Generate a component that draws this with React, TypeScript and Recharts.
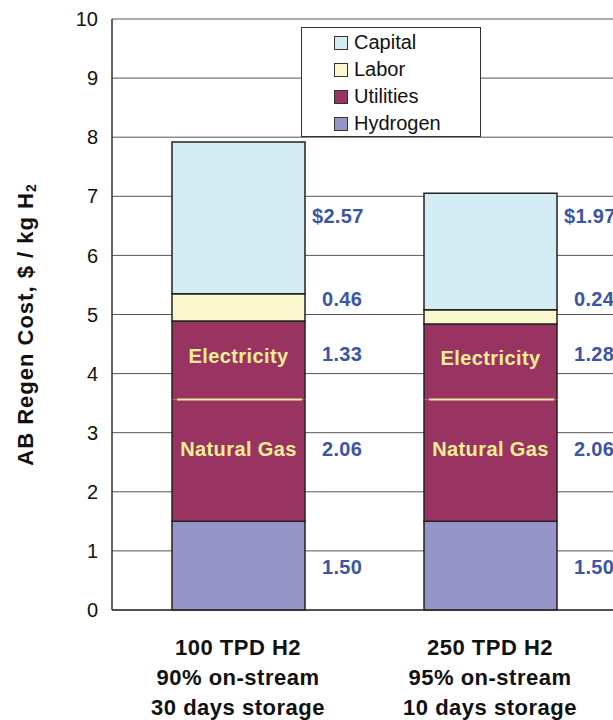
import React from "react";
import { BarChart, Bar, XAxis, YAxis, CartesianGrid, Legend } from "recharts";

// categories, one entry per line of the tick label
const categoryLines = [
  ["100 TPD H2", "90% on-stream", "30 days storage"],
  ["250 TPD H2", "95% on-stream", "10 days storage"],
];

// stacked cost parts, $ / kg H2 (bottom to top)
const hydrogen = [1.5, 1.5];
const naturalGas = [2.06, 2.06];
const electricity = [1.33, 1.28];
const labor = [0.46, 0.24];
const capital = [2.57, 1.97];

const yTicks = [0, 1, 2, 3, 4, 5, 6, 7, 8, 9, 10];

const legendItems = [
  { name: "Capital", color: "#d4ecf3" },
  { name: "Labor", color: "#fbf8cf" },
  { name: "Utilities", color: "#993462" },
  { name: "Hydrogen", color: "#9595c7" },
];

const data = categoryLines.map((lines, i) => ({
  name: lines[0],
  hydrogen: hydrogen[i],
  naturalGas: naturalGas[i],
  electricity: electricity[i],
  labor: labor[i],
  capital: capital[i],
}));

const order = ["hydrogen", "naturalGas", "electricity", "labor", "capital"];

const FONT = "'Liberation Sans', Arial, sans-serif";
const EDGE = "#222";
const VALUE_BLUE = "#3b55a6";
const INNER_YELLOW = "#f6ef94";

// where each value label sits (in axis units), a style choice of the original
const segStyle: Record<string, any> = {
  hydrogen: { fill: "#9595c7", labelRow: 0.72 },
  naturalGas: { fill: "#993462", labelRow: 2.72, open: "top", inner: "Natural Gas", innerDy: -11 },
  electricity: { fill: "#993462", labelRow: 4.33, open: "bottom", inner: "Electricity", innerDy: -4, divider: true },
  labor: { fill: "#fbf8cf", labelRow: 5.26 },
  capital: { fill: "#d4ecf3", labelRow: 6.67, prefix: "$" },
};

function Segment(props: any) {
  const { x, y, width, height, payload, segKey } = props;
  const st = segStyle[segKey];
  const val = payload[segKey];
  let lower = 0;
  for (const k of order) {
    if (k === segKey) break;
    lower += payload[k];
  }
  const ppu = height / val;
  const bottom = y + height;
  const labelY = bottom - (st.labelRow - lower) * ppu;
  const right = x + width;

  let edges = "";
  if (st.open === "top") {
    edges = `M${x},${y} L${x},${bottom} L${right},${bottom} L${right},${y}`;
  } else if (st.open === "bottom") {
    edges = `M${x},${bottom} L${x},${y} L${right},${y} L${right},${bottom}`;
  } else {
    edges = `M${x},${y} L${right},${y} L${right},${bottom} L${x},${bottom} Z`;
  }

  return (
    <g>
      <rect x={x} y={y} width={width} height={height} fill={st.fill} />
      <path d={edges} fill="none" stroke={EDGE} strokeWidth={1.5} />
      {st.divider && (
        <line x1={x + 5} x2={right - 3} y1={bottom} y2={bottom} stroke={INNER_YELLOW} strokeWidth={2} />
      )}
      {st.inner && (
        <text
          x={x + width / 2}
          y={y + height / 2 + st.innerDy}
          textAnchor="middle"
          dominantBaseline="central"
          fill={INNER_YELLOW}
          fontFamily={FONT}
          fontWeight="bold"
          fontSize={20}
          letterSpacing={0.4}
        >
          {st.inner}
        </text>
      )}
      <text
        x={right + (st.prefix ? 7 : 17)}
        y={labelY}
        dominantBaseline="central"
        fill={VALUE_BLUE}
        fontFamily={FONT}
        fontWeight="bold"
        fontSize={20}
        letterSpacing={0.3}
      >
        {(st.prefix || "") + val.toFixed(2)}
      </text>
    </g>
  );
}

function CategoryTick(props: any) {
  const { x, y, payload } = props;
  const lines = categoryLines[payload.index] || [payload.value];
  return (
    <text x={x} y={y} textAnchor="middle" fill="#111" fontFamily={FONT} fontWeight="bold" fontSize={22} letterSpacing={0.5}>
      {lines.map((l, i) => (
        <tspan key={i} x={x} dy={i === 0 ? 45 : 30}>
          {l}
        </tspan>
      ))}
    </text>
  );
}

function YTitle(props: any) {
  const vb = props.viewBox || { x: 0, y: 19, height: 591 };
  const cx = vb.x + 25;
  const cy = vb.y + vb.height / 2 + 10;
  return (
    <text
      x={cx}
      y={cy}
      transform={`rotate(-90, ${cx}, ${cy})`}
      textAnchor="middle"
      dominantBaseline="central"
      fill="#111"
      fontFamily={FONT}
      fontWeight="bold"
      fontSize={22}
      letterSpacing={1}
    >
      AB Regen Cost, $ / kg H
      <tspan fontSize={14} dy={6}>2</tspan>
    </text>
  );
}

function LegendBox() {
  return (
    <div
      style={{
        width: 180,
        height: 110,
        boxSizing: "border-box",
        border: "1.5px solid #333",
        background: "#fff",
        paddingTop: 1,
        fontFamily: FONT,
        fontSize: 20,
        color: "#111",
      }}
    >
      {legendItems.map((it) => (
        <div key={it.name} style={{ height: 27, display: "flex", alignItems: "center", paddingLeft: 32 }}>
          <span
            style={{
              width: 14,
              height: 14,
              boxSizing: "border-box",
              border: "1.5px solid #333",
              background: it.color,
              marginRight: 6,
              display: "inline-block",
            }}
          />
          <span>{it.name}</span>
        </div>
      ))}
    </div>
  );
}

export default function App() {
  return (
    <div style={{ position: "absolute", left: 0, top: 0, width: 613, height: 720, overflow: "hidden", background: "#fff" }}>
      <BarChart
        width={616}
        height={720}
        data={data}
        margin={{ top: 19, right: 0, left: 0, bottom: 0 }}
        barSize={133}
      >
        <CartesianGrid horizontal vertical={false} stroke="#555" strokeWidth={1} />
        <XAxis
          dataKey="name"
          height={110}
          axisLine={{ stroke: "#333", strokeWidth: 1.5 }}
          tickLine={false}
          tickSize={0}
          tickMargin={0}
          tick={<CategoryTick />}
          interval={0}
        />
        <YAxis
          width={112}
          domain={[0, 10]}
          ticks={yTicks}
          interval={0}
          axisLine={{ stroke: "#333", strokeWidth: 1.5 }}
          tickLine={false}
          tickSize={0}
          tickMargin={14}
          tick={{ fill: "#111", fontSize: 20, fontFamily: FONT }}
          label={<YTitle />}
        />
        <Legend
          layout="horizontal"
          verticalAlign="middle"
          align="center"
          content={<LegendBox />}
          wrapperStyle={{ left: 301, top: 27, width: 180, height: 110 }}
        />
        {order.map((k) => (
          <Bar
            key={k}
            dataKey={k}
            stackId="cost"
            isAnimationActive={false}
            legendType="none"
            shape={(p: any) => <Segment {...p} segKey={k} />}
          />
        ))}
      </BarChart>
    </div>
  );
}
